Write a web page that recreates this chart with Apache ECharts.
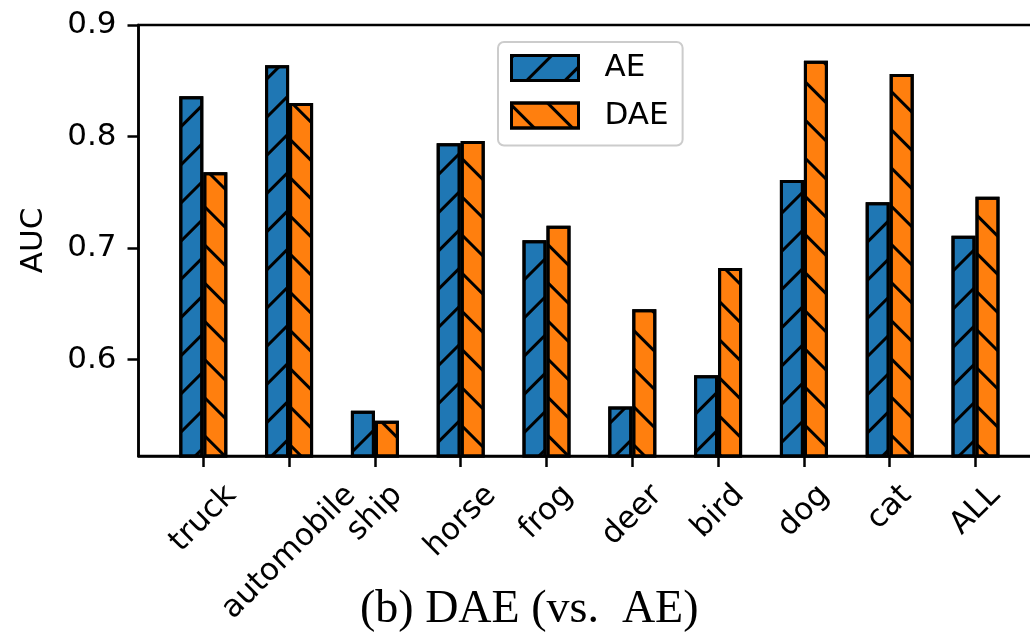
<!DOCTYPE html>
<html>
<head>
<meta charset="utf-8">
<script src="https://cdn.jsdelivr.net/npm/echarts@6/dist/echarts.min.js"></script>
<style>
  html, body { margin: 0; padding: 0; background: #fff; }
  #chart { width: 1030px; height: 642px; }
</style>
</head>
<body>
<div id="chart"></div>
<script>
const categories = ['truck', 'automobile', 'ship', 'horse', 'frog', 'deer', 'bird', 'dog', 'cat', 'ALL'];
const aeValues  = [0.836, 0.864, 0.554, 0.794, 0.707, 0.558, 0.586, 0.761, 0.741, 0.711];
const daeValues = [0.768, 0.830, 0.545, 0.796, 0.720, 0.645, 0.682, 0.868, 0.856, 0.746];
const yTicks = [0.6, 0.7, 0.8, 0.9];
const seriesNames = ['AE', 'DAE'];
const yAxisName = 'AUC';
const caption = '(b) DAE (vs.  AE)';

const FONT = 'DejaVu Sans';
const FS = 31;
const LH = 36;
const Y_MIN = 0.5135, Y_MAX = 0.9;

// measure label widths so rotated labels are centred under their ticks (matplotlib style)
const mctx = document.createElement('canvas').getContext('2d');
mctx.font = FS + 'px "' + FONT + '"';
const rich = {};
categories.forEach((c, i) => {
  const w = mctx.measureText(c).width;
  rich['c' + i] = {
    fontFamily: FONT, fontSize: FS, lineHeight: LH, color: '#000',
    padding: [w / 2, w / 2, 0, 0]
  };
});

const chart = echarts.init(document.getElementById('chart'), null, { renderer: 'canvas' });

const hatch = (rot) => ({
  symbol: 'rect',
  symbolSize: 1,
  color: '#000',
  dashArrayX: [[20, 0]],
  dashArrayY: [3, 24],
  rotation: rot
});

const black = { color: '#000', width: 2.5 };

chart.setOption({
  animation: false,
  backgroundColor: '#fff',
  title: {
    text: caption,
    left: 355,
    top: 582,
    textStyle: { fontFamily: 'Liberation Serif', fontSize: 46, fontWeight: 'normal', color: '#000' }
  },
  legend: {
    orient: 'vertical',
    left: 498,
    top: 42,
    padding: [8, 14, 12, 12],
    itemWidth: 67,
    itemHeight: 25,
    itemGap: 11.5,
    backgroundColor: '#fff',
    borderColor: '#cccccc',
    borderWidth: 2,
    borderRadius: 6,
    icon: 'rect',
    itemStyle: { borderColor: '#000', borderWidth: 3 },
    textStyle: { fontFamily: FONT, fontSize: FS, lineHeight: LH, color: '#000', padding: [0, 0, 0, 21] },
    data: seriesNames
  },
  grid: [
    { // frame (axes box), extends past the right edge like the reference
      left: 138.5, right: -10.6, top: 25, bottom: 186,
      show: true, borderColor: '#000', borderWidth: 2.5,
      backgroundColor: 'transparent', containLabel: false, outerBoundsMode: 'none'
    },
    { // bar area: category bands of the reference spacing
      left: 160.4, right: 11.6, top: 25, bottom: 186,
      show: false, containLabel: false, outerBoundsMode: 'none'
    }
  ],
  xAxis: [
    {
      gridIndex: 0, type: 'value', min: 0, max: 1, z: 10,
      splitLine: { show: false },
      axisLine: { show: true, onZero: false, lineStyle: black },
      axisTick: { show: false },
      axisLabel: { show: false }
    },
    {
      gridIndex: 1, type: 'category', data: categories, boundaryGap: true, z: 10,
      splitLine: { show: false },
      axisLine: { show: false, onZero: false },
      axisTick: { show: true, alignWithLabel: true, interval: 0, length: 11, lineStyle: black },
      axisLabel: {
        interval: 0,
        rotate: 45,
        align: 'center',
        verticalAlign: 'middle',
        margin: 34.5,
        hideOverlap: false,
        formatter: (v, i) => '{c' + i + '|' + v + '}',
        rich: rich
      }
    }
  ],
  yAxis: [
    {
      gridIndex: 0, type: 'value', min: Y_MIN, max: Y_MAX, z: 10,
      name: yAxisName,
      nameLocation: 'middle',
      nameRotate: 90,
      nameGap: 105,
      nameTextStyle: { fontFamily: FONT, fontSize: FS, color: '#000', verticalAlign: 'middle' },
      splitLine: { show: false },
      axisLine: { show: true, onZero: false, lineStyle: black },
      axisTick: { show: true, customValues: yTicks, length: 11, lineStyle: black },
      axisLabel: {
        customValues: yTicks,
        margin: 22,
        hideOverlap: false,
        fontFamily: FONT,
        fontSize: FS,
        color: '#000',
        formatter: (v) => v.toFixed(1)
      }
    },
    {
      gridIndex: 1, type: 'value', min: Y_MIN, max: Y_MAX, show: false,
      splitLine: { show: false }
    }
  ],
  series: [
    {
      name: seriesNames[0],
      type: 'bar',
      xAxisIndex: 1, yAxisIndex: 1,
      barWidth: 24,
      barGap: '0%',
      clip: true,
      data: aeValues,
      itemStyle: { color: '#1f77b4', borderColor: '#000', borderWidth: 3, decal: hatch(-Math.PI / 4) }
    },
    {
      name: seriesNames[1],
      type: 'bar',
      xAxisIndex: 1, yAxisIndex: 1,
      barWidth: 24,
      barGap: '0%',
      clip: true,
      data: daeValues,
      itemStyle: { color: '#ff7f0e', borderColor: '#000', borderWidth: 3, decal: hatch(Math.PI / 4) }
    }
  ]
});
</script>
</body>
</html>
